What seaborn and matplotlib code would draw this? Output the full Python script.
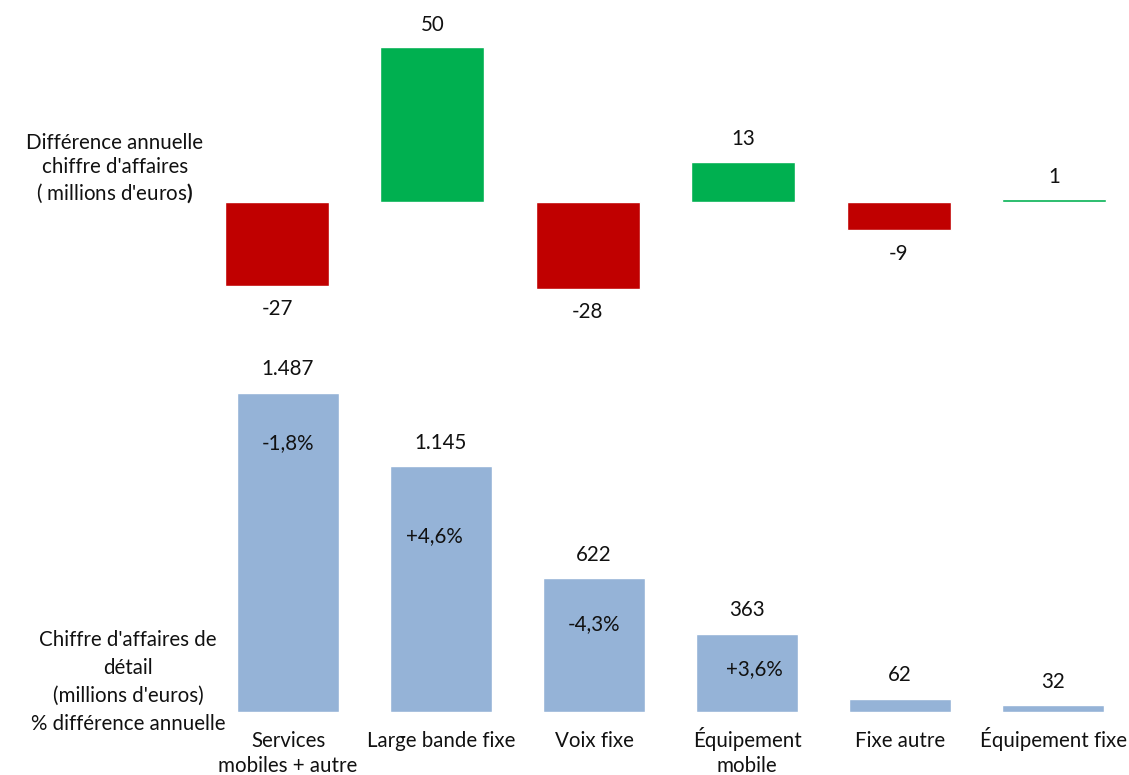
import matplotlib
matplotlib.use("Agg")
import matplotlib.pyplot as plt
import seaborn as sns
import pandas as pd

categories = ["Services\nmobiles + autre", "Large bande fixe", "Voix fixe",
              "Équipement\nmobile", "Fixe autre", "Équipement fixe"]
diff_values = [-27, 50, -28, 13, -9, 1]
diff_labels = ["-27", "50", "-28", "13", "-9", "1"]
revenue_values = [1487, 1145, 622, 363, 62, 32]
revenue_labels = ["1.487", "1.145", "622", "363", "62", "32"]
pct_labels = ["-1,8%", "+4,6%", "-4,3%", "+3,6%", "", ""]

# style: position of the % label inside each bar (points below top, points horiz offset)
pct_down = [36, 50, 33, 25, 0, 0]
pct_dx = [0, -5, 0, 5, 0, 0]

sns.set_theme(style="white")
plt.rcParams["font.family"] = ["Lato", "DejaVu Sans"]
plt.rcParams["mathtext.fontset"] = "custom"
plt.rcParams["mathtext.rm"] = "Lato"
plt.rcParams["mathtext.bf"] = "Lato:bold"

W, H = 1129, 775
fig = plt.figure(figsize=(W / 100, H / 100), dpi=100)

RED, GREEN, BLUE = "#C00000", "#00B050", "#95B3D7"
FS = 14.8
TXT = "#111111"

# ---------- top axes: annual difference ----------
top_L, top_R = 199.3, 1128.6
top_T, top_B = 16, 310.5
ax1 = fig.add_axes([top_L / W, 1 - top_B / H, (top_R - top_L) / W, (top_B - top_T) / H])
df1 = pd.DataFrame({"cat": categories, "val": diff_values})
cols1 = [GREEN if v > 0 else RED for v in diff_values]
sns.barplot(data=df1, x="cat", y="val", hue="cat", palette=cols1, legend=False,
            width=0.67, saturation=1, ax=ax1, order=categories, hue_order=categories)
ax1.set_xlim(-0.5, 5.48)
ax1.set_ylim(-35, 60)
ax1.axis("off")
for i, (v, lab) in enumerate(zip(diff_values, diff_labels)):
    off = 16 if v > 0 else -17
    ax1.annotate(lab, (i, v), xytext=(0, off), textcoords="offset points",
                 ha="center", va="center", fontsize=FS, color=TXT)

# ---------- bottom axes: retail revenue ----------
bot_L, bot_R = 211.5, 1128
bot_T, bot_B = 347, 712
ax2 = fig.add_axes([bot_L / W, 1 - bot_B / H, (bot_R - bot_L) / W, (bot_B - bot_T) / H])
df2 = pd.DataFrame({"cat": categories, "val": revenue_values})
sns.barplot(data=df2, x="cat", y="val", color=BLUE, width=0.67, saturation=1,
            ax=ax2, order=categories)
ax2.set_xlim(-0.5, 5.49)
ax2.set_ylim(0, 1700)
for s in ax2.spines.values():
    s.set_visible(False)
ax2.set_yticks([])
ax2.set_xticklabels([])
ax2.set_xlabel("")
ax2.set_ylabel("")
ax2.tick_params(axis="x", length=0)
for i, (v, lab) in enumerate(zip(revenue_values, revenue_labels)):
    ax2.annotate(lab, (i, v), xytext=(0, 17), textcoords="offset points",
                 ha="center", va="center", fontsize=FS, color=TXT)
    if pct_labels[i]:
        ax2.annotate(pct_labels[i], (i, v), xytext=(pct_dx[i], -pct_down[i]),
                     textcoords="offset points", ha="center", va="center",
                     fontsize=FS, color=TXT)
# category labels, baseline aligned line by line
for i, cat in enumerate(categories):
    for k, line in enumerate(cat.split("\n")):
        ax2.annotate(line, (i, 0), xytext=(0, -25 - 18 * k), textcoords="offset points",
                     ha="center", va="baseline", fontsize=FS, color=TXT,
                     annotation_clip=False)

# ---------- side labels ----------
fig.text(115 / W, 1 - 169 / H,
         "Différence annuelle\nchiffre d'affaires\n( millions d'euros$\\mathbf{)}$",
         ha="center", va="center", fontsize=FS, linespacing=1.27, color=TXT)
fig.text(128 / W, 1 - 682 / H,
         "Chiffre d'affaires de\ndétail\n(millions d'euros)\n% différence annuelle",
         ha="center", va="center", fontsize=FS, linespacing=1.48, color=TXT)

fig.savefig("out.png", dpi=100)
